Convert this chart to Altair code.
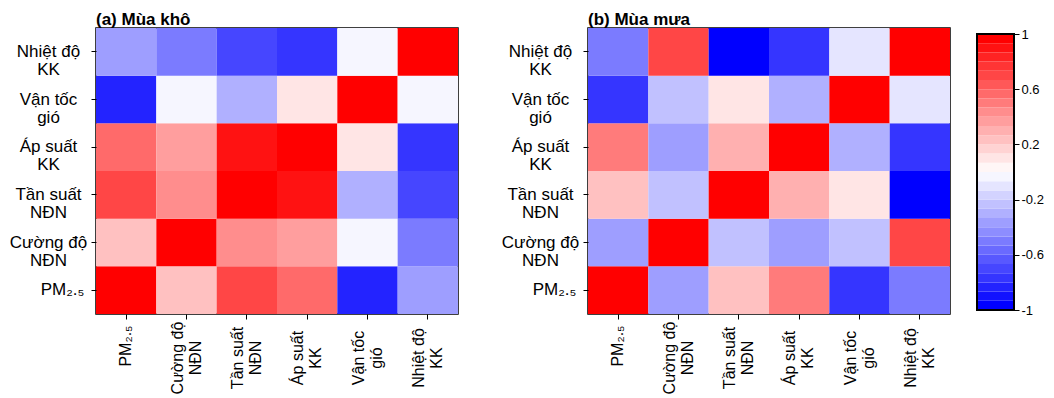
import altair as alt
import numpy as np
import pandas as pd

# ---- data ----
variables = ["PM₂.₅", "Cường độ\nNĐN", "Tần suất\nNĐN", "Áp suất\nKK", "Vận tốc\ngió", "Nhiệt độ\nKK"]

# (a) dry season correlation matrix, rows/cols in `variables` order
dry_pm = [1.00, 0.23, 0.70, 0.56, -0.83, -0.37]
dry_cd = [0.23, 1.00, 0.43, 0.37, -0.03, -0.50]
dry_ts = [0.70, 0.43, 1.00, 0.90, -0.30, -0.70]
dry_as = [0.56, 0.37, 0.90, 1.00, 0.10, -0.77]
dry_vt = [-0.83, -0.03, -0.30, 0.10, 1.00, -0.03]
dry_nd = [-0.37, -0.50, -0.70, -0.77, -0.03, 1.00]

# (b) rainy season correlation matrix
wet_pm = [1.00, -0.37, 0.23, 0.50, -0.77, -0.50]
wet_cd = [-0.37, 1.00, -0.23, -0.37, -0.23, 0.70]
wet_ts = [0.23, -0.23, 1.00, 0.30, 0.10, -0.97]
wet_as = [0.50, -0.37, 0.30, 1.00, -0.30, -0.77]
wet_vt = [-0.77, -0.23, 0.10, -0.30, 1.00, -0.10]
wet_nd = [-0.50, 0.70, -0.97, -0.77, -0.10, 1.00]

panel_titles = ["(a) Mùa khô", "(b) Mùa mưa"]
colorbar_ticks = [-1, -0.6, -0.2, 0.2, 0.6, 1]
n_colors = 30

# ---- palette: blue -> white -> red in 30 steps ----
palette = []
for i in range(n_colors):
    t = i / (n_colors - 1)
    if t <= 0.5:
        f = round(255 * 2 * t)
        palette.append("#%02x%02xff" % (f, f))
    else:
        f = round(255 * 2 * (1 - t))
        palette.append("#ff%02x%02x" % (f, f))

color_scale = alt.Scale(type="quantize", domain=[-1, 1], range=palette)
FONT = "Liberation Sans"
W, H = 362, 286
PM = variables[0]


def long_df(matrix):
    rows = []
    for i, rname in enumerate(variables):
        for j, cname in enumerate(variables):
            rows.append({"row": rname, "col": cname, "r": matrix[i][j]})
    return pd.DataFrame(rows)


dry_df = long_df([dry_pm, dry_cd, dry_ts, dry_as, dry_vt, dry_nd])
wet_df = long_df([wet_pm, wet_cd, wet_ts, wet_as, wet_vt, wet_nd])
label_df = pd.DataFrame({
    "col": variables,
    "line1": [v.split("\n")[0] for v in variables],
    "line2": [v.split("\n")[1] if "\n" in v else "" for v in variables],
})

pm_test = f"datum.value == '{PM}'"


def heat(df, title, extent):
    rect = alt.Chart(df).mark_rect().encode(
        x=alt.X(
            "col:N", sort=variables, title=None,
            axis=alt.Axis(labels=False, tickSize=5, domain=False, minExtent=5, maxExtent=5),
        ),
        y=alt.Y(
            "row:N", sort=variables[::-1], title=None,
            axis=alt.Axis(
                labelAlign="center", labelBaseline="middle",
                labelPadding={"condition": {"test": pm_test, "value": 29}, "value": 43},
                tickSize=5, labelExpr="split(datum.label, '\\n')",
                labelFontSize=17, labelLineHeight=18, domain=False,
                minExtent=extent, maxExtent=extent,
            ),
        ),
        color=alt.Color("r:Q", scale=color_scale, legend=None),
    )

    def xlab(filt, field, ypix, dy):
        return alt.Chart(label_df).mark_text(
            angle=270, align="center", baseline="middle", dy=dy,
            fontSize=16, color="black", font=FONT,
        ).transform_filter(filt).encode(
            x=alt.X("col:N", sort=variables), y=alt.value(ypix), text=f"{field}:N",
        )

    layers = [
        rect,
        xlab(f"datum.col == '{PM}'", "line1", H + 32, 0),
        xlab(f"datum.col != '{PM}'", "line1", H + 44, -9),
        xlab(f"datum.col != '{PM}'", "line2", H + 44, 9),
    ]
    return alt.layer(*layers).properties(
        width=W, height=H,
        title=alt.Title(title, anchor="start", frame="group", fontSize=17,
                        fontWeight="bold", font=FONT, offset=-1),
    )


edges = np.linspace(-1, 1, n_colors + 1)
cb_df = pd.DataFrame({"lo": edges[:-1], "hi": edges[1:], "mid": (edges[:-1] + edges[1:]) / 2})
cb_y_scale = alt.Scale(domain=[-1, 1], range=[H - 4, 6], nice=False, zero=False)

cbar_fill = alt.Chart(cb_df).mark_rect().encode(
    x=alt.value(0), x2=alt.value(37),
    y=alt.Y(
        "lo:Q", scale=cb_y_scale,
        axis=alt.Axis(
            orient="right", values=colorbar_ticks, tickSize=5, labelFontSize=13,
            domain=False, grid=False, title=None, labelExpr="toString(datum.value)",
        ),
    ),
    y2="hi:Q",
    color=alt.Color("mid:Q", scale=color_scale, legend=None),
)
cbar_border = alt.Chart(cb_df).mark_rect(
    filled=False, stroke="black", strokeWidth=1.2
).encode(
    x=alt.value(0), x2=alt.value(37),
    y=alt.datum(colorbar_ticks[0], scale=cb_y_scale),
    y2=alt.datum(colorbar_ticks[-1]),
)
cbar = alt.layer(cbar_fill, cbar_border).properties(
    width=37, height=H, view=alt.ViewBackground(strokeOpacity=0),
)

panels = alt.hconcat(
    heat(dry_df, panel_titles[0], 95),
    heat(wet_df, panel_titles[1], 118),
    spacing=10,
)

chart = alt.hconcat(panels, cbar, spacing=25).properties(
    padding={"left": 0, "top": 10, "right": 0, "bottom": 0}
).configure(font=FONT).configure_view(
    stroke="black", strokeWidth=1.5
).configure_axis(
    labelColor="black", tickColor="black", labelFont=FONT
)

chart.save("out.html", embed_options={"renderer": "svg", "actions": False})
